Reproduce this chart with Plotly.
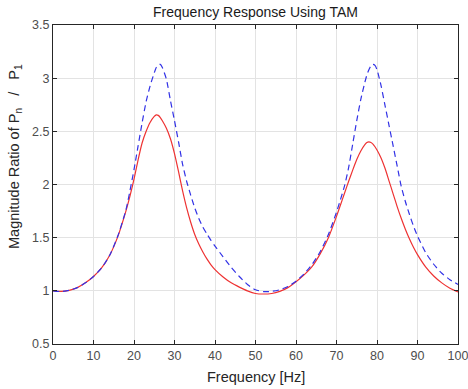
import plotly.graph_objects as go

freq = [0, 2, 4, 6, 8, 10, 12, 14, 16, 18, 19, 20, 21, 22, 23, 24, 25, 25.5, 26, 26.5,
        27, 28, 29, 30, 31, 32, 33, 34, 35, 36, 37, 38, 39, 40, 42, 44, 46, 48, 50, 52, 54, 56,
        58, 60, 62, 64, 66, 68, 70, 71, 72, 73, 74, 75, 76, 77, 77.5, 78, 78.5, 79, 79.5,
        80, 81, 82, 83, 84, 85, 86, 87, 88, 89, 90, 92, 94, 96, 98, 100]

ratio_red = [1.000, 0.995, 1.005, 1.03, 1.075, 1.135, 1.215, 1.335, 1.51, 1.75, 1.89, 2.05,
             2.23, 2.39, 2.50, 2.585, 2.64, 2.655, 2.65, 2.63,
             2.60, 2.53, 2.43, 2.29, 2.12, 1.94, 1.78, 1.645, 1.53, 1.44, 1.365, 1.30, 1.245, 1.20,
             1.13, 1.075, 1.035, 1.00, 0.975, 0.97, 0.975, 0.995,
             1.03, 1.085, 1.15, 1.23, 1.35, 1.50, 1.70, 1.81, 1.92, 2.03, 2.135, 2.235, 2.315,
             2.375, 2.395, 2.40, 2.395, 2.38, 2.355,
             2.325, 2.25, 2.15, 2.03, 1.91, 1.79, 1.68, 1.58, 1.49, 1.41, 1.34, 1.225, 1.14,
             1.075, 1.025, 0.99]

ratio_blue = [1.000, 0.993, 1.005, 1.03, 1.075, 1.135, 1.215, 1.335, 1.515, 1.76, 1.94, 2.14,
              2.36, 2.58, 2.78, 2.93, 3.05, 3.10, 3.125, 3.13,
              3.10, 2.99, 2.79, 2.60, 2.40, 2.19, 2.03, 1.90, 1.78, 1.68, 1.60, 1.535, 1.475,
              1.42, 1.32, 1.22, 1.135, 1.06, 1.01, 0.993, 0.995, 1.01,
              1.04, 1.09, 1.16, 1.25, 1.37, 1.53, 1.74, 1.86, 1.99, 2.16, 2.38, 2.60, 2.80,
              2.96, 3.03, 3.08, 3.115, 3.13, 3.12,
              3.08, 2.93, 2.74, 2.55, 2.36, 2.17, 1.98, 1.84, 1.72, 1.61, 1.515, 1.36, 1.25,
              1.165, 1.105, 1.06]

x_ticks = [0, 10, 20, 30, 40, 50, 60, 70, 80, 90, 100]
y_ticks = [0.5, 1, 1.5, 2, 2.5, 3, 3.5]
y_tick_labels = ["0.5", "1", "1.5", "2", "2.5", "3", "3.5"]

FONT = "Liberation Sans, Arial, sans-serif"
L, R, T, B = 53, 10, 25, 45
W, H = 468, 389
PW, PH = W - L - R, H - T - B

fig = go.Figure()
fig.add_trace(go.Scatter(x=freq, y=ratio_red, mode="lines",
                         line=dict(color="rgb(238,50,50)", width=1.2, shape="spline", smoothing=0.6),
                         showlegend=False))
fig.add_trace(go.Scatter(x=freq, y=ratio_blue, mode="lines",
                         line=dict(color="rgb(50,50,230)", width=1.2, dash="6px,4px",
                                   shape="spline", smoothing=0.6),
                         showlegend=False))

axis_common = dict(
    showgrid=True, gridcolor="#e3e3e3", gridwidth=1,
    showline=True, linecolor="#262626", linewidth=1, mirror="ticks",
    ticks="inside", ticklen=4, tickcolor="#262626",
    tickfont=dict(family=FONT, size=12.5, color="#4d4d4d"),
    zeroline=False, automargin=False, ticklabeloverflow="allow",
)

fig.update_layout(
    width=W, height=H,
    margin=dict(l=L, r=R, t=T, b=B),
    paper_bgcolor="white", plot_bgcolor="white",
    title=dict(text="Frequency Response Using TAM", x=(L + W - R) / 2 / W, xanchor="center",
               y=1 - 12 / H, yanchor="middle",
               font=dict(family=FONT, size=14, color="#1a1a1a")),
    xaxis=dict(range=[0, 100], tickvals=x_ticks, **axis_common),
    yaxis=dict(range=[0.5, 3.5], tickvals=y_ticks, ticktext=y_tick_labels, **axis_common),
    annotations=[
        dict(text="Frequency [Hz]", xref="paper", yref="paper",
             x=0.5, y=-(377 - (H - B)) / PH, xanchor="center", yanchor="middle",
             showarrow=False, font=dict(family=FONT, size=14.5, color="#262626")),
        dict(text="Magnitude Ratio of P<sub>n</sub>\u00a0\u00a0\u00a0/\u00a0\u00a0\u00a0P<sub>1</sub>",
             xref="paper", yref="paper", textangle=-90,
             x=(15 - L) / PW, y=((H - B) - 157) / PH, xanchor="center", yanchor="middle",
             showarrow=False, font=dict(family=FONT, size=14.5, color="#262626")),
    ],
)

fig.write_html("out.html")
